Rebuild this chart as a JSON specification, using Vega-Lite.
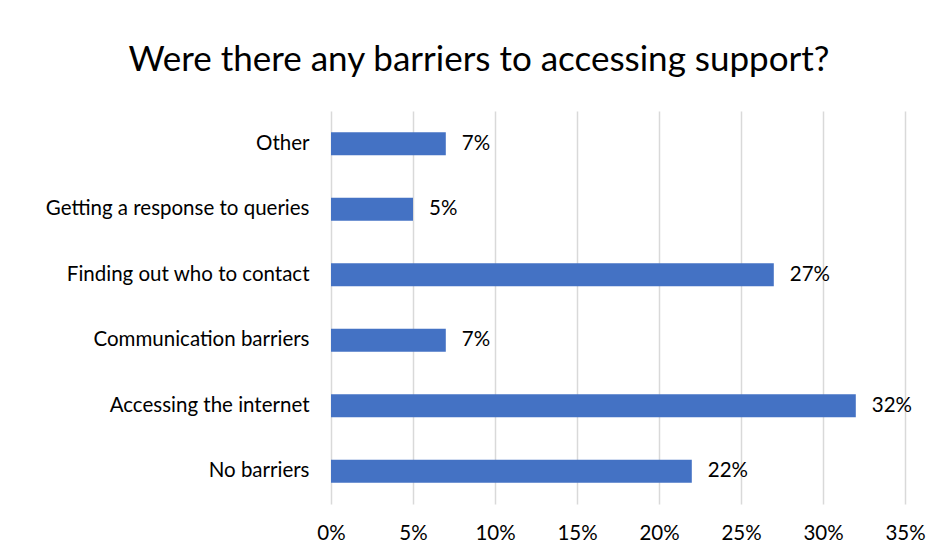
{
  "$schema": "https://vega.github.io/schema/vega-lite/v6.json",
  "autosize": {"type": "none"},
  "padding": {"left": 331, "top": 111, "right": 39, "bottom": 53},
  "width": 574,
  "height": 393,
  "background": "white",
  "title": {
    "text": "Were there any barriers to accessing support?",
    "font": "Lato",
    "fontSize": 35,
    "fontWeight": "normal",
    "color": "#000000",
    "anchor": "middle",
    "dx": -139,
    "offset": 33
  },
  "data": {
    "values": [
      {"barrier": "Other", "pct": 0.07, "order": 1},
      {"barrier": "Getting a response to queries", "pct": 0.05, "order": 2},
      {"barrier": "Finding out who to contact", "pct": 0.27, "order": 3},
      {"barrier": "Communication barriers", "pct": 0.07, "order": 4},
      {"barrier": "Accessing the internet", "pct": 0.32, "order": 5},
      {"barrier": "No barriers", "pct": 0.22, "order": 6}
    ]
  },
  "encoding": {
    "y": {
      "field": "barrier",
      "type": "nominal",
      "sort": {"field": "order", "op": "min", "order": "ascending"},
      "title": null,
      "scale": {"paddingInner": 0.65, "paddingOuter": 0.325},
      "axis": {
        "domain": false,
        "ticks": false,
        "labelFont": "Lato",
        "labelFontSize": 20.5,
        "labelColor": "#000000",
        "labelPadding": 22,
        "labelLimit": 400
      }
    },
    "x": {
      "field": "pct",
      "type": "quantitative",
      "title": null,
      "scale": {"domain": [0, 0.35], "nice": false},
      "axis": {
        "format": ".0%",
        "values": [0, 0.05, 0.1, 0.15, 0.2, 0.25, 0.3, 0.35],
        "domain": false,
        "ticks": false,
        "grid": true,
        "gridColor": "#d9d9d9",
        "gridWidth": 1.5,
        "labelFlush": false,
        "labelFont": "Lato",
        "labelFontSize": 20.5,
        "labelColor": "#000000",
        "labelPadding": 19
      }
    }
  },
  "layer": [
    {"mark": {"type": "bar", "color": "#4472C4"}},
    {
      "mark": {"type": "text", "align": "left", "baseline": "middle", "dx": 16, "font": "Lato", "fontSize": 20.5, "color": "#000000"},
      "encoding": {"text": {"field": "pct", "type": "quantitative", "format": ".0%"}}
    }
  ],
  "config": {"view": {"stroke": null}}
}
